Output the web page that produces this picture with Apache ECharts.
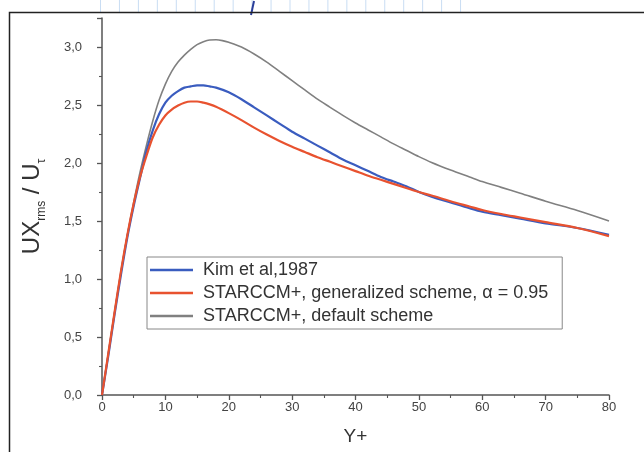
<!DOCTYPE html>
<html>
<head>
<meta charset="utf-8">
<script src="https://cdn.jsdelivr.net/npm/echarts@6/dist/echarts.min.js"></script>
<style>html,body{margin:0;padding:0;background:#fff;}#c{width:644px;height:452px;}</style>
</head>
<body>
<div id="c"></div>
<script>
var seriesNames = ['Kim et al,1987', 'STARCCM+, generalized scheme, \u03b1 = 0.95', 'STARCCM+, default scheme'];
var kimX = [0,1,2,3,4,5,6,7,8,9,10,11,12,13,14,15,16,17,18,20,22,24,26,28,30,32,34,36,38,40,42,44,46,48,50,52,55,58,60,63,66,70,75,80];
var kimY = [0,0.34,0.70,1.04,1.36,1.63,1.87,2.10,2.28,2.42,2.52,2.58,2.62,2.65,2.66,2.67,2.67,2.66,2.65,2.61,2.55,2.48,2.41,2.34,2.27,2.21,2.15,2.09,2.03,1.98,1.93,1.88,1.84,1.80,1.75,1.71,1.66,1.61,1.58,1.55,1.52,1.48,1.44,1.38];
var genX = [0,1,2,3,4,5,6,7,8,9,10,11,12,13,14,15,16,17,18,20,22,24,26,28,30,32,34,36,38,40,42,44,46,48,50,52,55,58,60,63,66,70,75,80];
var genY = [0,0.36,0.72,1.07,1.38,1.65,1.88,2.06,2.22,2.33,2.41,2.46,2.495,2.52,2.53,2.53,2.52,2.505,2.485,2.43,2.37,2.305,2.245,2.19,2.14,2.095,2.05,2.01,1.97,1.93,1.89,1.855,1.82,1.785,1.75,1.72,1.67,1.625,1.595,1.56,1.53,1.49,1.44,1.37];
var defX = [0,1,2,3,4,5,6,7,8,9,10,11,12,13,14,15,16,17,18,19,20,22,24,26,28,30,32,34,36,38,40,42,44,46,48,50,52,55,58,60,63,66,70,75,80];
var defY = [0,0.36,0.72,1.07,1.38,1.66,1.92,2.15,2.36,2.54,2.68,2.79,2.87,2.93,2.98,3.02,3.045,3.06,3.062,3.055,3.04,3.00,2.94,2.87,2.79,2.71,2.63,2.55,2.48,2.41,2.345,2.285,2.225,2.165,2.11,2.055,2.005,1.94,1.88,1.84,1.79,1.74,1.67,1.59,1.50];
var xTicks = [0,10,20,30,40,50,60,70,80];
var yTicks = ['0,0','0,5','1,0','1,5','2,0','2,5','3,0'];

function pairs(xs, ys){ return xs.map(function(x,i){ return [x, ys[i]]; }); }

var chart = echarts.init(document.getElementById('c'), null, {renderer:'canvas'});
var gridLines = [];
for (var i = 0; i < 20; i++) {
  var gx = 100.5 + i * 18.95;
  gridLines.push({type:'line', shape:{x1:gx,y1:0,x2:gx,y2:12}, style:{stroke:'#c9ddf3', lineWidth:1}, silent:true});
}
gridLines.push({type:'line', shape:{x1:254,y1:1,x2:251,y2:15}, style:{stroke:'#2a3f9a', lineWidth:2}, silent:true});
gridLines.push({type:'rect', shape:{x:9.5,y:12.5,width:700,height:500}, style:{stroke:'#222', fill:null, lineWidth:1.5}, silent:true});

chart.setOption({
  backgroundColor:'#fff',
  animation:false,
  graphic: gridLines,
  grid:{left:102, right:35, top:18, bottom:57},
  legend:{
    orient:'vertical', left:147, top:257,
    padding:[3,14,3,3],
    borderColor:'#888', borderWidth:1, backgroundColor:'#fff',
    icon:'rect', itemWidth:43, itemHeight:2.5, itemGap:3,
    textStyle:{fontFamily:'Liberation Sans, Arial', fontSize:18, color:'#333', lineHeight:20, padding:[0,0,0,5]},
    data: seriesNames
  },
  xAxis:{
    type:'value', min:0, max:80, interval:10,
    name:'Y+', nameLocation:'middle', nameGap:32,
    nameTextStyle:{fontFamily:'Liberation Sans, Arial', fontSize:19, color:'#333'},
    axisLine:{show:true, onZero:false, lineStyle:{color:'#555', width:1.5}},
    axisTick:{show:true, inside:false, length:5, lineStyle:{color:'#555', width:1.3}},
    minorTick:{show:true, splitNumber:2, length:3, lineStyle:{color:'#555', width:1.1}},
    splitLine:{show:false},
    axisLabel:{margin:6, fontFamily:'Liberation Sans, Arial', fontSize:13, color:'#444',
      formatter:function(v){ var k = xTicks.indexOf(v); return k>=0 ? String(xTicks[k]) : ''; }}
  },
  yAxis:{
    type:'value', min:0, max:3.25, interval:0.5,
    name:'{m|UX}{s|rms}{m| / U}{s|\u03c4}', nameLocation:'middle', nameGap:54, nameRotate:90,
    nameTextStyle:{
      rich:{
        m:{fontFamily:'Liberation Sans, Arial', fontSize:24, color:'#333', lineHeight:28, verticalAlign:'top'},
        s:{fontFamily:'Liberation Sans, Arial', fontSize:12, color:'#333', lineHeight:14, verticalAlign:'bottom'}
      }
    },
    axisLine:{show:true, onZero:false, lineStyle:{color:'#555', width:1.5}},
    axisTick:{show:true, inside:false, length:5, lineStyle:{color:'#555', width:1.3}},
    minorTick:{show:true, splitNumber:2, length:3, lineStyle:{color:'#555', width:1.1}},
    splitLine:{show:false},
    axisLabel:{margin:20, showMaxLabel:false, fontFamily:'Liberation Sans, Arial', fontSize:13, color:'#444',
      formatter:function(v){ var k = Math.round(v/0.5); return (Math.abs(v - k*0.5) < 1e-6 && k < yTicks.length) ? yTicks[k] : ''; }}
  },
  series:[
    {name:seriesNames[0], type:'line', data:pairs(kimX,kimY), symbol:'none', smooth:0.3, z:3,
     lineStyle:{color:'#3a5cbf', width:2.2}, itemStyle:{color:'#3a5cbf'}},
    {name:seriesNames[1], type:'line', data:pairs(genX,genY), symbol:'none', smooth:0.3, z:4,
     lineStyle:{color:'#e8522f', width:2.2}, itemStyle:{color:'#e8522f'}},
    {name:seriesNames[2], type:'line', data:pairs(defX,defY), symbol:'none', smooth:0.3, z:2,
     lineStyle:{color:'#808080', width:1.6}, itemStyle:{color:'#808080'}}
  ]
});
</script>
</body>
</html>
